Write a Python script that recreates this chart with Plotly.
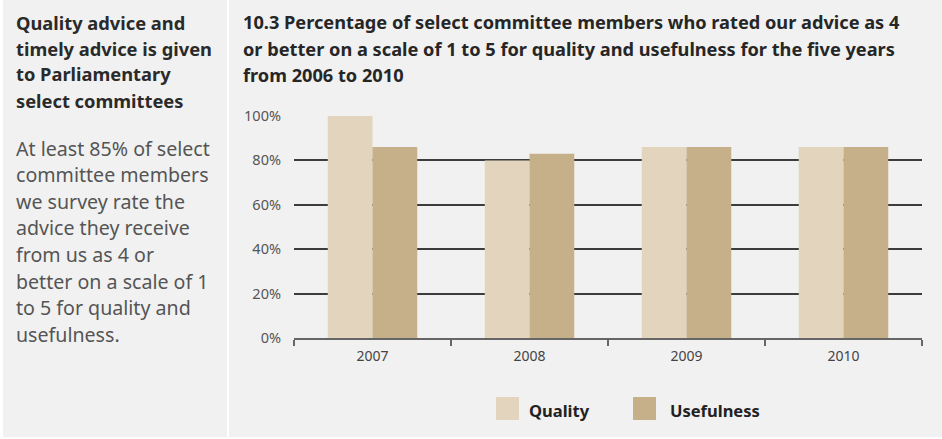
import plotly.graph_objects as go

years = ["2007", "2008", "2009", "2010"]
quality = [100, 80, 86, 86]
usefulness = [86, 83, 86, 86]
series_names = ["Quality", "Usefulness"]
y_ticks = [0, 20, 40, 60, 80, 100]

title_lines = [
    "10.3 Percentage of select committee members who rated our advice as 4",
    "or better on a scale of 1 to 5 for quality and usefulness for the five years",
    "from 2006 to 2010",
]
side_heading = [
    "Quality advice and",
    "timely advice is given",
    "to Parliamentary",
    "select committees",
]
side_body = [
    "At least 85% of select",
    "committee members",
    "we survey rate the",
    "advice they receive",
    "from us as 4 or",
    "better on a scale of 1",
    "to 5 for quality and",
    "usefulness.",
]

W, H = 942, 439
L, R, T, B = 294, 922, 116, 338
FONT = "Noto Sans"
PANEL = "#f1f1f1"
C_Q = "#e2d4bd"
C_U = "#c6b08a"


def px(x):
    return (x - L) / (R - L)


def py(y):
    return (B - y) / (B - T)


fig = go.Figure()
fig.add_trace(go.Bar(x=years, y=quality, name=series_names[0],
                     marker=dict(color=C_Q, line=dict(width=0))))
fig.add_trace(go.Bar(x=years, y=usefulness, name=series_names[1],
                     marker=dict(color=C_U, line=dict(width=0))))

shapes = [
    # panels
    dict(type="rect", xref="paper", yref="paper", layer="below",
         x0=px(0), x1=px(W), y0=py(0), y1=py(H),
         fillcolor="white", line=dict(width=0)),
    dict(type="rect", xref="paper", yref="paper", layer="below",
         x0=px(3), x1=px(227), y0=py(0), y1=py(437),
         fillcolor=PANEL, line=dict(width=0)),
    dict(type="rect", xref="paper", yref="paper", layer="below",
         x0=px(229), x1=px(W), y0=py(0), y1=py(437),
         fillcolor=PANEL, line=dict(width=0)),
]

annotations = []
for i, t in enumerate(title_lines):
    annotations.append(dict(text="<b>%s</b>" % t, x=px(241), y=py(22 + i * 26.5),
                            xref="paper", yref="paper", xanchor="left", yanchor="middle",
                            showarrow=False, font=dict(family=FONT, size=18.2, color="#262626")))
for i, t in enumerate(side_heading):
    annotations.append(dict(text="<b>%s</b>" % t, x=px(14), y=py(22 + i * 26),
                            xref="paper", yref="paper", xanchor="left", yanchor="middle",
                            showarrow=False, font=dict(family=FONT, size=18.3, color="#2a2a2a")))
for i, t in enumerate(side_body):
    annotations.append(dict(text=t, x=px(14), y=py(148 + i * 26.6),
                            xref="paper", yref="paper", xanchor="left", yanchor="middle",
                            showarrow=False, font=dict(family=FONT, size=19.6, color="#555")))

# legend
for name, color, sx, tx in [(series_names[0], C_Q, 496, 527), (series_names[1], C_U, 633, 668)]:
    shapes.append(dict(type="rect", xref="paper", yref="paper",
                       x0=px(sx), x1=px(sx + 23), y0=py(420), y1=py(397),
                       fillcolor=color, line=dict(width=0)))
    annotations.append(dict(text="<b>%s</b>" % name, x=px(tx), y=py(410),
                            xref="paper", yref="paper", xanchor="left", yanchor="middle",
                            showarrow=False, font=dict(family=FONT, size=16.5, color="#222")))

fig.update_layout(
    width=W, height=H,
    margin=dict(l=L, r=W - R, t=T, b=H - B, pad=0),
    paper_bgcolor=PANEL, plot_bgcolor="rgba(0,0,0,0)",
    barmode="group", bargap=0.43, bargroupgap=0,
    showlegend=False,
    shapes=shapes, annotations=annotations,
    font=dict(family=FONT),
)
fig.update_yaxes(range=[0, 100], tickvals=y_ticks,
                 ticktext=["%d%%" % v for v in y_ticks],
                 showgrid=True, gridcolor="#3c3c3c", gridwidth=1.5,
                 zeroline=False, showline=False, ticks="",
                 ticklabelstandoff=12,
                 tickfont=dict(family=FONT, size=14.5, color="#555"))
fig.update_xaxes(type="category", range=[-0.5, 3.5],
                 showline=True, linecolor="#666", linewidth=1.5,
                 ticks="outside", tickson="boundaries", ticklen=6,
                 tickcolor="#666", tickwidth=1.5,
                 showgrid=False, ticklabelstandoff=4,
                 tickfont=dict(family=FONT, size=14, color="#444"))

fig.write_html("out.html", config={"displayModeBar": False},
               post_script="document.body.style.margin='0';")
